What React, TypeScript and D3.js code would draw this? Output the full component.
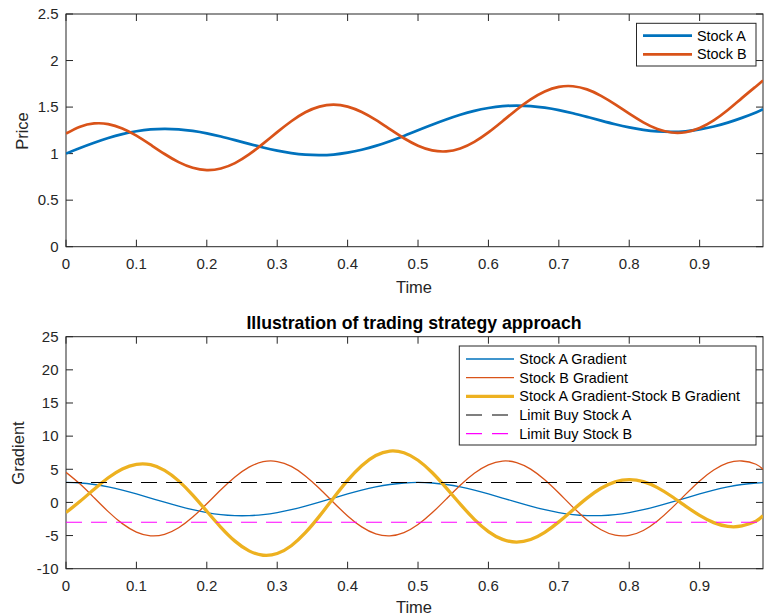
import React from "react";
import * as d3 from "d3";

const time = [0,0.02,0.04,0.06,0.08,0.10,0.12,0.14,0.16,0.18,0.20,0.22,0.24,0.26,0.28,0.30,0.32,0.34,0.36,0.38,0.40,0.42,0.44,0.46,0.48,0.50,0.52,0.54,0.56,0.58,0.60,0.62,0.64,0.66,0.68,0.70,0.72,0.74,0.76,0.78,0.80,0.82,0.84,0.86,0.88,0.90,0.92,0.94,0.96,0.98,0.99];

const stockA = [1.000,1.060,1.116,1.167,1.209,1.240,1.260,1.266,1.261,1.244,1.218,1.184,1.145,1.105,1.066,1.032,1.006,0.989,0.984,0.990,1.010,1.041,1.083,1.134,1.190,1.250,1.310,1.366,1.417,1.459,1.490,1.510,1.516,1.511,1.494,1.468,1.434,1.395,1.355,1.316,1.282,1.256,1.239,1.234,1.240,1.260,1.291,1.333,1.384,1.442,1.478];

const stockB = [1.215,1.289,1.324,1.317,1.270,1.193,1.096,0.996,0.909,0.848,0.823,0.840,0.898,0.991,1.107,1.231,1.348,1.444,1.505,1.526,1.505,1.447,1.362,1.262,1.165,1.085,1.035,1.024,1.055,1.126,1.228,1.348,1.472,1.583,1.668,1.717,1.724,1.690,1.621,1.529,1.429,1.336,1.264,1.227,1.230,1.275,1.357,1.468,1.596,1.722,1.785];

const gradA = [3.01,2.93,2.70,2.33,1.85,1.28,0.66,0.03,-0.57,-1.10,-1.53,-1.84,-1.99,-1.99,-1.84,-1.53,-1.10,-0.57,0.03,0.66,1.28,1.85,2.33,2.70,2.93,3.01,2.93,2.70,2.33,1.85,1.28,0.66,0.03,-0.57,-1.10,-1.53,-1.84,-1.99,-1.99,-1.84,-1.53,-1.10,-0.57,0.03,0.66,1.28,1.85,2.33,2.70,2.93,2.99];

const gradB = [4.54,2.77,0.70,-1.39,-3.20,-4.47,-5.04,-4.81,-3.82,-2.21,-0.21,1.91,3.84,5.32,6.14,6.17,5.43,4.00,2.10,-0.01,-2.04,-3.69,-4.75,-5.05,-4.56,-3.34,-1.57,0.50,2.59,4.40,5.67,6.24,6.01,5.02,3.41,1.41,-0.71,-2.64,-4.12,-4.94,-4.97,-4.23,-2.80,-0.90,1.21,3.24,4.89,5.95,6.25,5.76,5.00];

const gradDiff = [-1.53,0.16,2.00,3.72,5.05,5.75,5.70,4.84,3.25,1.11,-1.33,-3.75,-5.84,-7.31,-7.97,-7.71,-6.53,-4.57,-2.07,0.67,3.32,5.54,7.08,7.75,7.49,6.36,4.51,2.20,-0.26,-2.55,-4.40,-5.58,-5.98,-5.59,-4.51,-2.94,-1.13,0.65,2.13,3.10,3.44,3.13,2.23,0.93,-0.55,-1.96,-3.05,-3.62,-3.55,-2.82,-2.00];

const limitBuyA = [3, 3];
const limitBuyB = [-3, -3];
const limitTime = [0, 0.99];

const xTicks = [0,0.1,0.2,0.3,0.4,0.5,0.6,0.7,0.8,0.9];
const xTickLabels = ["0","0.1","0.2","0.3","0.4","0.5","0.6","0.7","0.8","0.9"];
const priceTicks = [0,0.5,1,1.5,2,2.5];
const priceTickLabels = ["0","0.5","1","1.5","2","2.5"];
const gradTicks = [-10,-5,0,5,10,15,20,25];
const gradTickLabels = ["-10","-5","0","5","10","15","20","25"];

const topLegend = ["Stock A", "Stock B"];
const bottomLegend = ["Stock A Gradient","Stock B Gradient","Stock A Gradient-Stock B Gradient","Limit Buy Stock A","Limit Buy Stock B"];

const BLUE = "#0072BD";
const ORANGE = "#D95319";
const YELLOW = "#EDB120";
const AX = "#262626";
const FONT = "'Liberation Sans', Arial, Helvetica, sans-serif";

const X0 = 66, X1 = 763;
const TOP = { y0: 14, y1: 246.7 };
const BOT = { y0: 336.7, y1: 568.7 };

function Axes({ y, ticks, labels, yTicks, yLabels, id, top, bottom }: any) {
  const x = d3.scaleLinear().domain([0, 0.99]).range([X0, X1]);
  const tl = 7;
  return (
    <g>
      <rect x={X0} y={top} width={X1 - X0} height={bottom - top} fill="#fff" />
      <defs>
        <clipPath id={id}>
          <rect x={X0} y={top} width={X1 - X0} height={bottom - top} />
        </clipPath>
      </defs>
      {ticks.map((t: number, i: number) => (
        <g key={"x" + i}>
          <line x1={x(t)} x2={x(t)} y1={bottom} y2={bottom - tl} stroke={AX} strokeWidth={1} />
          <line x1={x(t)} x2={x(t)} y1={top} y2={top + tl} stroke={AX} strokeWidth={1} />
          <text x={x(t)} y={bottom + 22.5} textAnchor="middle" fontSize={15} fill={AX} fontFamily={FONT}>{labels[i]}</text>
        </g>
      ))}
      {yTicks.map((t: number, i: number) => (
        <g key={"y" + i}>
          <line x1={X0} x2={X0 + tl} y1={y(t)} y2={y(t)} stroke={AX} strokeWidth={1} />
          <line x1={X1} x2={X1 - tl} y1={y(t)} y2={y(t)} stroke={AX} strokeWidth={1} />
          <text x={58.5} y={y(t) + 5.3} textAnchor="end" fontSize={15} fill={AX} fontFamily={FONT}>{yLabels[i]}</text>
        </g>
      ))}
      <rect x={X0} y={top} width={X1 - X0} height={bottom - top} fill="none" stroke={AX} strokeWidth={1} />
    </g>
  );
}

export default function App() {
  const x = d3.scaleLinear().domain([0, 0.99]).range([X0, X1]);
  const yTop = d3.scaleLinear().domain([0, 2.5]).range([TOP.y1, TOP.y0]);
  const yBot = d3.scaleLinear().domain([-10, 25]).range([BOT.y1, BOT.y0]);

  const lineTop = (vals: number[]) =>
    d3.line<number>().x((_, i) => x(time[i])).y((v) => yTop(v)).curve(d3.curveNatural)(vals) || "";
  const lineBot = (vals: number[]) =>
    d3.line<number>().x((_, i) => x(time[i])).y((v) => yBot(v)).curve(d3.curveNatural)(vals) || "";
  const limLine = (vals: number[]) =>
    d3.line<number>().x((_, i) => x(limitTime[i])).y((v) => yBot(v))(vals) || "";

  const legRowTop = [35.7, 54.3];
  const legRowBot = [359, 377.6, 396.3, 415, 433.6];

  return (
    <svg width={765} height={615} style={{ position: "absolute", left: 0, top: 0, background: "#fff" }}>
      <rect x={0} y={0} width={765} height={615} fill="#fff" />
      {/* top axes */}
      <Axes id="clipTop" top={TOP.y0} bottom={TOP.y1} y={yTop} ticks={xTicks} labels={xTickLabels} yTicks={priceTicks} yLabels={priceTickLabels} />
      <g clipPath="url(#clipTop)">
        <path d={lineTop(stockA)} fill="none" stroke={BLUE} strokeWidth={2.7} />
        <path d={lineTop(stockB)} fill="none" stroke={ORANGE} strokeWidth={2.7} />
      </g>
      <text x={414} y={293} textAnchor="middle" fontSize={16.5} fill={AX} fontFamily={FONT}>Time</text>
      <text transform="translate(28,131) rotate(-90)" textAnchor="middle" fontSize={16.5} fill={AX} fontFamily={FONT}>Price</text>
      {/* top legend */}
      <rect x={636.5} y={23.3} width={119.5} height={42.7} fill="#fff" stroke={AX} strokeWidth={1} />
      {topLegend.map((name, i) => (
        <g key={name}>
          <line x1={643} x2={692} y1={legRowTop[i]} y2={legRowTop[i]} stroke={i === 0 ? BLUE : ORANGE} strokeWidth={2.7} />
          <text x={697} y={legRowTop[i] + 5} fontSize={14.4} fill="#000" fontFamily={FONT}>{name}</text>
        </g>
      ))}

      {/* bottom axes */}
      <Axes id="clipBot" top={BOT.y0} bottom={BOT.y1} y={yBot} ticks={xTicks} labels={xTickLabels} yTicks={gradTicks} yLabels={gradTickLabels} />
      <g clipPath="url(#clipBot)">
        <path d={lineBot(gradA)} fill="none" stroke={BLUE} strokeWidth={1.3} />
        <path d={lineBot(gradB)} fill="none" stroke={ORANGE} strokeWidth={1.3} />
        <path d={lineBot(gradDiff)} fill="none" stroke={YELLOW} strokeWidth={3.3} />
        <path d={limLine(limitBuyA)} fill="none" stroke="#000" strokeWidth={1.1} strokeDasharray="16 9" />
        <path d={limLine(limitBuyB)} fill="none" stroke="#FF00FF" strokeWidth={1.1} strokeDasharray="16 9" />
      </g>
      <text x={414} y={613} textAnchor="middle" fontSize={16.5} fill={AX} fontFamily={FONT}>Time</text>
      <text transform="translate(24,453) rotate(-90)" textAnchor="middle" fontSize={16.5} fill={AX} fontFamily={FONT}>Gradient</text>
      <text x={414} y={329} textAnchor="middle" fontSize={17.7} fontWeight="bold" fill="#000" fontFamily={FONT}>Illustration of trading strategy approach</text>
      {/* bottom legend */}
      <rect x={459.3} y={346} width={296.7} height={99} fill="#fff" stroke={AX} strokeWidth={1} />
      {bottomLegend.map((name, i) => {
        const colors = [BLUE, ORANGE, YELLOW, "#000", "#FF00FF"];
        const widths = [1.3, 1.3, 3.3, 1.1, 1.1];
        const dash = i >= 3 ? "16 10" : undefined;
        return (
          <g key={name}>
            <line x1={466} x2={514} y1={legRowBot[i]} y2={legRowBot[i]} stroke={colors[i]} strokeWidth={widths[i]} strokeDasharray={dash} />
            <text x={519.3} y={legRowBot[i] + 5} fontSize={14.4} fill="#000" fontFamily={FONT}>{name}</text>
          </g>
        );
      })}
    </svg>
  );
}
